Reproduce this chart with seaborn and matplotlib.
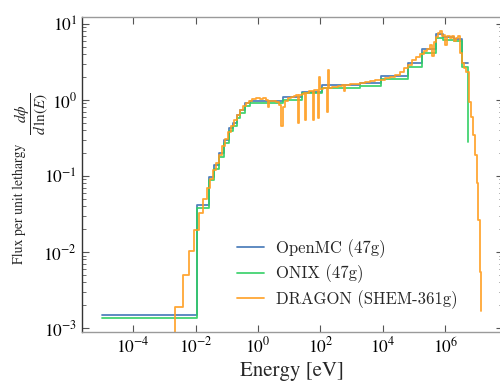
import matplotlib
matplotlib.use("Agg")
import matplotlib.pyplot as plt
import matplotlib.ticker as mticker
import pandas as pd
import seaborn as sns

# Group-wise flux per unit lethargy, steps-post: each entry is (lower energy edge, flux);
# the last entry closes the final group.
openmc_energy = [1e-5, 0.0111, 0.027, 0.039, 0.056, 0.081, 0.118, 0.158, 0.212, 0.265,
                 0.383, 0.55, 2.25, 6.33, 25.7, 112.7, 1860, 8700, 6.4e4, 1.8e5,
                 5.07e5, 8.5e5, 1.92e6, 3.45e6, 5.4e6]
openmc_flux = [1.5e-3, 0.042, 0.097, 0.14, 0.2, 0.3, 0.43, 0.5, 0.63, 0.74,
               0.9, 0.98, 0.97, 1.1, 1.27, 1.57, 1.67, 2.05, 3.06, 4.6,
               7.4, 6.7, 6.3, 3.1, 3.1]

onix_energy = [1e-5, 0.0111, 0.027, 0.039, 0.056, 0.081, 0.118, 0.158, 0.212, 0.265,
               0.383, 0.55, 2.25, 6.33, 25.7, 112.7, 1860, 8700, 6.4e4, 1.8e5,
               5.07e5, 8.5e5, 1.92e6, 3.45e6, 5.4e6]
onix_flux = [1.35e-3, 0.038, 0.088, 0.125, 0.18, 0.27, 0.39, 0.46, 0.57, 0.67,
             0.83, 0.92, 0.9, 1.0, 1.22, 1.44, 1.53, 1.89, 2.7, 4.15,
             6.5, 6.1, 5.9, 2.7, 0.28]

dragon_energy = [1e-5, 2.19e-3, 3.98e-3, 6.1e-3, 8.9e-3, 0.0129, 0.0173, 0.0232, 0.029, 0.036,
                 0.045, 0.056, 0.070, 0.088, 0.109, 0.136, 0.170, 0.212, 0.265, 0.33,
                 0.41, 0.51, 0.64, 0.86, 1.16, 1.45, 1.80, 2.09, 2.25, 3.02,
                 3.78, 4.71, 5.46, 6.33, 7.3, 9.1, 11.4, 14.2, 16.5, 19.2,
                 20.6, 25.7, 29.8, 32.2, 34.6, 43.1, 53.8, 57.9, 62.4, 77.8,
                 83.9, 90.2, 97.1, 121, 151, 163, 175, 189, 235, 293,
                 365, 492, 570, 615, 890, 1290, 1860, 2690, 3880, 5600,
                 8100, 11700, 16900, 24500, 35400, 47600, 6.4e4, 8.7e4, 1.15e5, 1.55e5,
                 2.1e5, 2.63e5, 3.26e5, 3.78e5, 4.38e5, 5.07e5, 5.88e5, 6.81e5, 7.9e5, 9.1e5,
                 9.85e5, 1.14e6, 1.43e6, 1.65e6, 1.92e6, 2.22e6, 2.57e6, 2.97e6, 3.45e6, 4.0e6,
                 4.64e6, 5.77e6, 6.6e6, 7.7e6, 9.0e6, 1.04e7, 1.12e7, 1.3e7, 1.39e7]
dragon_flux = [1e-4, 1.9e-3, 5.0e-3, 0.0102, 0.0195, 0.033, 0.05, 0.07, 0.09, 0.12,
               0.15, 0.19, 0.25, 0.31, 0.38, 0.46, 0.55, 0.63, 0.73, 0.83,
               0.92, 0.98, 1.03, 1.06, 1.02, 1.05, 1.0, 0.8, 0.97, 0.98,
               0.93, 0.85, 0.45, 0.8, 0.98, 1.05, 1.1, 1.12, 1.15, 0.5,
               1.15, 1.2, 1.22, 0.55, 1.25, 1.3, 1.3, 0.55, 1.35, 1.35,
               0.58, 2.0, 1.4, 1.42, 1.45, 0.7, 2.5, 1.45, 1.5, 1.5,
               1.52, 1.55, 1.3, 1.58, 1.6, 1.63, 1.66, 1.7, 1.75, 1.8,
               1.85, 1.92, 2.0, 2.15, 2.35, 2.6, 2.9, 3.3, 3.7, 4.0,
               4.4, 4.7, 5.2, 3.8, 5.8, 6.8, 7.5, 8.1, 7.0, 7.2,
               5.3, 7.0, 6.6, 6.9, 6.0, 6.6, 6.9, 4.2, 3.1, 2.6,
               2.3, 0.94, 0.6, 0.35, 0.19, 0.081, 0.026, 5.5e-3, 1.7e-3]

labels = ["OpenMC (47g)", "ONIX (47g)", "DRAGON (SHEM-361g)"]
colors = ["#3f74b5", "#2fcf62", "#ff9d1f"]
x_ticks = [1e-4, 1e-2, 1e0, 1e2, 1e4, 1e6]

sns.set_theme(style="ticks")
plt.rcParams["font.family"] = ["STIXGeneral"]
plt.rcParams["mathtext.fontset"] = "stix"

fig = plt.figure(figsize=(5.0, 3.83), dpi=100)
ax = fig.add_axes([0.164, 0.1332, 0.842, 0.8224])
ax.set_xscale("log")
ax.set_yscale("log")

series = [(openmc_energy, openmc_flux), (onix_energy, onix_flux), (dragon_energy, dragon_flux)]
for (energy, flux), color in zip(series, colors):
    df = pd.DataFrame({"energy": energy, "flux": flux})
    sns.lineplot(data=df, x="energy", y="flux", ax=ax, color=color, lw=1.3, alpha=0.9,
                 drawstyle="steps-post", estimator=None, sort=False, legend=False)

ax.set_xlim(10 ** -5.64, 10 ** 7.85)
ax.set_ylim(8.9e-4, 12.3)

ax.xaxis.set_major_locator(mticker.FixedLocator(x_ticks))
ax.xaxis.set_major_formatter(mticker.LogFormatterSciNotation())
ax.xaxis.set_minor_locator(mticker.NullLocator())
ax.yaxis.set_major_locator(mticker.LogLocator(base=10))
ax.yaxis.set_minor_locator(mticker.LogLocator(base=10, subs=range(2, 10)))
ax.yaxis.set_minor_formatter(mticker.NullFormatter())

ax.tick_params(which="both", direction="in", top=True, right=True, colors="#555555",
               labelcolor="black", labelsize=12.5)
ax.tick_params(which="major", length=5, width=0.8)
ax.tick_params(which="minor", length=3, width=0.6)
for side in ["top", "bottom", "right"]:
    ax.spines[side].set_color("#9a9a9a")
ax.spines["left"].set_color("#333333")
for sp in ax.spines.values():
    sp.set_linewidth(1.0)

ax.set_xlabel("Energy [eV]", fontsize=15, labelpad=3)

# y label: plain text part plus the lethargy-derivative fraction above it
ax.set_ylabel("Flux per unit lethargy", fontsize=10)
ax.yaxis.set_label_coords(-0.132, (332 - 204) / 315)
fig.text(32 / 500, 1 - 114 / 383, r"$\dfrac{d\phi}{d\,\ln(E)}$", rotation=90,
         ha="center", va="center", fontsize=11)

leg = ax.legend(ax.lines[:3], labels, loc="center left",
                bbox_to_anchor=((229 - 82) / 421, (332 - 274) / 315),
                frameon=False, borderpad=0, handlelength=1.6, handletextpad=0.7,
                labelspacing=0.42, prop={"family": "cmr10", "size": 12})

fig.savefig("out.png", dpi=100)
